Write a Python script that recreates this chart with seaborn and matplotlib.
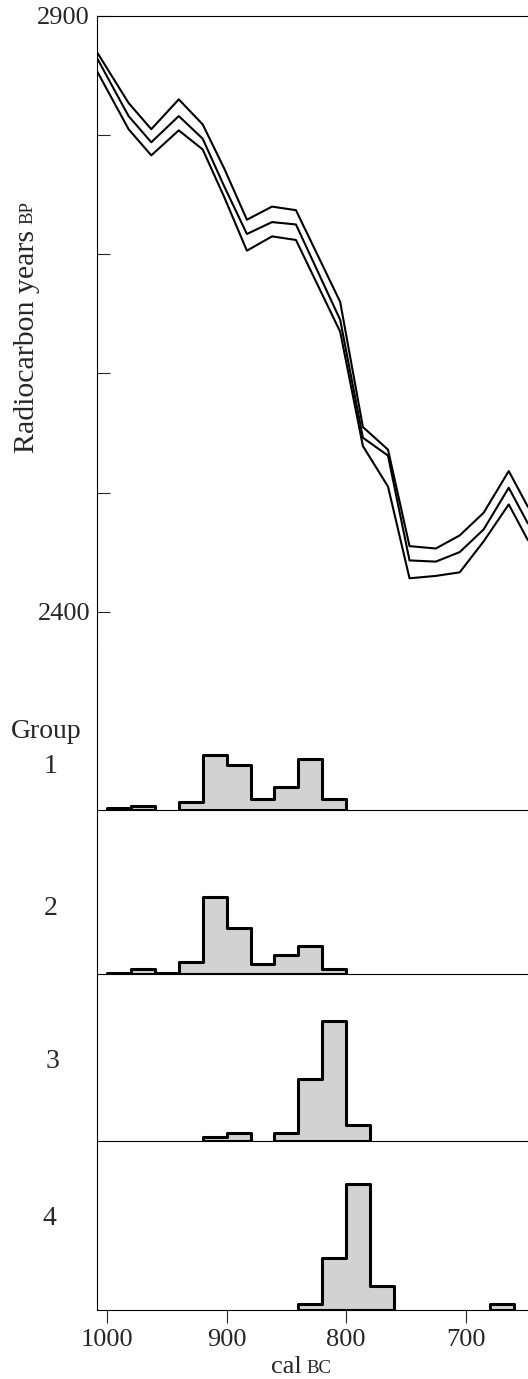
"""
Radiocarbon calibration curve with calibrated date distributions per group.
"""
import numpy  as np
import pandas as pd

import matplotlib
matplotlib.use("Agg")
import matplotlib.pyplot as plt
import seaborn           as sns

# ================================================================================
# Data
# ================================================================================
# Calibration curve (cal BC -> radiocarbon years BP), mean +/- 1 sigma
curve_cal_bc = [1008, 982, 963, 940, 920, 902, 883, 862, 842, 805, 786, 765, 747, 725, 705, 685, 664, 648]
curve_upper  = [2869, 2827, 2805, 2830, 2809, 2772, 2729, 2740, 2737, 2660, 2555, 2536, 2455, 2453, 2464, 2483, 2518, 2488]
curve_mid    = [2864, 2816, 2794, 2816, 2797, 2757, 2717, 2727, 2725, 2645, 2546, 2531, 2443, 2442, 2450, 2469, 2504, 2474]
curve_lower  = [2853, 2805, 2783, 2804, 2788, 2748, 2703, 2715, 2712, 2635, 2539, 2505, 2428, 2430, 2433, 2459, 2490, 2460]

# Calibrated distributions, 20-year bins (bin mid-points, relative probability)
group_names = ["1", "2", "3", "4"]
group1_mid  = [990, 970, 930, 910, 890, 870, 850, 830, 810]
group1_prob = [2.3, 4.3, 7.7, 55.0, 45.0, 11.0, 23.3, 51.7, 11.0]
group2_mid  = [990, 970, 950, 930, 910, 890, 870, 850, 830, 810]
group2_prob = [1.5, 4.7, 1.5, 11.7, 78.0, 46.3, 9.7, 19.7, 28.3, 5.0]
group3_mid  = [910, 890, 850, 830, 810, 790]
group3_prob = [3.7, 7.7, 7.7, 61.7, 119.3, 16.0]
group4_mid  = [830, 810, 790, 770, 670]
group4_prob = [5.7, 50.7, 124.0, 23.3, 5.7]

bp_ticks  = [2900, 2800, 2700, 2600, 2500, 2400]
bp_labels = ["2900", "", "", "", "", "2400"]
cal_ticks = [1000, 900, 800, 700]

# ================================================================================
# Style / figure
# ================================================================================
sns.set_style("ticks")
plt.rcParams["font.family"]    = ["Liberation Serif", "DejaVu Serif"]
plt.rcParams["axes.linewidth"] = 0.8
plt.rcParams["axes.edgecolor"] = "black"
plt.rcParams["axes.facecolor"] = "none"   # stacked panels must not hide each other's spines

W, H = 528, 1379
fig = plt.figure(figsize=(W / 100, H / 100), dpi=100, facecolor="white")

def rect(top, bottom, left=97, right=528):
    return [left / W, 1 - bottom / H, (right - left) / W, (bottom - top) / H]

XLIM = (1008.4, 647.9)

# --------------------------------------------------------------------------------
# Top panel: calibration curve
# --------------------------------------------------------------------------------
ax = fig.add_axes(rect(16, 645))
curve = pd.DataFrame({
    "cal_bc": curve_cal_bc * 3,
    "bp"    : curve_upper + curve_mid + curve_lower,
    "band"  : ["upper"] * len(curve_cal_bc) + ["mid"] * len(curve_cal_bc) + ["lower"] * len(curve_cal_bc),
})
sns.lineplot(data=curve, x="cal_bc", y="bp", units="band", estimator=None, sort=False,
             color="black", linewidth=1.5, ax=ax)
ax.set_xlim(*XLIM)
ax.set_ylim(2372, 2900)
ax.set_yticks(bp_ticks)
ax.set_yticklabels(bp_labels)
ax.set_xticks([])
ax.tick_params(axis="y", direction="in", length=9.5, width=0.8, labelsize=19, pad=5)
ax.set_xlabel(""); ax.set_ylabel("")
for s in ["right", "bottom"]:
    ax.spines[s].set_visible(False)

# --------------------------------------------------------------------------------
# Group panels: stepped histograms
# --------------------------------------------------------------------------------
panels = [(645, 810), (810, 974), (974, 1141), (1141, 1310)]
groups = [(group1_mid, group1_prob), (group2_mid, group2_prob),
          (group3_mid, group3_prob), (group4_mid, group4_prob)]

for i, ((top, bot), (mids, probs)) in enumerate(zip(panels, groups)):
    ax = fig.add_axes(rect(top, bot))

    # split into contiguous runs of bins so gaps keep a thin baseline
    runs, cur = [], [0]
    for k in range(1, len(mids)):
        if abs(mids[k] - mids[k - 1]) > 20:
            runs.append(cur); cur = []
        cur.append(k)
    runs.append(cur)

    for run in runs:
        m = [mids[k] for k in run]
        p = [probs[k] for k in run]
        sns.histplot(x=m, weights=p, binwidth=20, binrange=(min(m) - 10, max(m) + 10),
                     element="step", fill=True, color="#d2d2d2", alpha=1,
                     edgecolor="black", linewidth=2.2, ax=ax)

    ax.set_xlim(*XLIM)
    ax.set_ylim(0, 166)
    ax.set_yticks([])
    ax.set_xlabel(""); ax.set_ylabel("")
    for s in ["right", "top"]:
        ax.spines[s].set_visible(False)

    if i < 3:
        ax.set_xticks([])
    else:
        ax.set_xticks(cal_ticks)
        ax.set_xticklabels([str(t) for t in cal_ticks])
        ax.tick_params(axis="x", direction="out", length=9.5, width=0.8, labelsize=19, pad=4)

# --------------------------------------------------------------------------------
# Labels
# --------------------------------------------------------------------------------
def fx(px): return px / W
def fy(py): return 1 - py / H

fig.text(fx(46), fy(738), "Group", ha="center", va="baseline", fontsize=20)
for name, x, y in zip(group_names, [51, 51, 52.5, 49], [773, 915, 1068, 1225]):
    fig.text(fx(x), fy(y), name, ha="center", va="baseline", fontsize=20)

fig.text(fx(27), fy(453), "Radiocarbon years", rotation=90, ha="center", va="bottom", fontsize=21.5)
fig.text(fx(28), fy(224), "BP", rotation=90, ha="center", va="bottom", fontsize=13.5)

fig.text(fx(302), fy(1373), "cal", ha="right", va="baseline", fontsize=19)
fig.text(fx(306), fy(1373), "BC", ha="left", va="baseline", fontsize=13.5)

fig.savefig("out.png", dpi=100)
